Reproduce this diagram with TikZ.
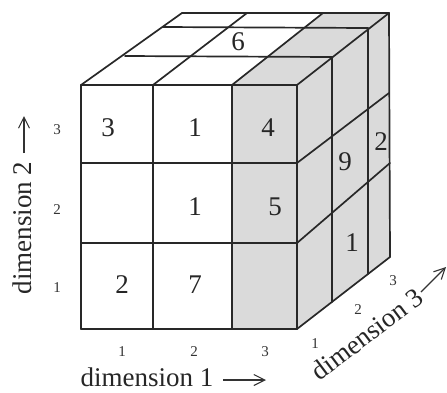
\documentclass[tikz,border=0pt]{standalone}
\usepackage{fontspec}
\setmainfont{Liberation Serif}
\usetikzlibrary{arrows.meta}
\definecolor{cellgray}{RGB}{218,218,218}
\definecolor{edge}{RGB}{40,40,40}
\begin{document}
\begin{tikzpicture}[x=1pt,y=-1pt,
  grid/.style={draw=edge,line width=1.7pt,line cap=round,line join=round},
  shade/.style={fill=cellgray},
  big/.style={font=\fontsize{27}{30}\selectfont,text=black!85,inner sep=0pt},
  small/.style={font=\fontsize{15}{17}\selectfont,text=black!80,inner sep=0pt},
  axis/.style={font=\fontsize{27}{30}\selectfont,text=black!85,inner sep=0pt},
  axarrow/.style={draw=black!80,line width=1.1pt,-{Straight Barb[length=11pt,width=11pt]}}]
\useasboundingbox (0,0) rectangle (447,392);
% gray regions
\fill[shade] (232,85) -- (297,85) -- (297,329) -- (232,329) -- cycle;
\fill[shade] (232,85) -- (297,85) -- (389,13) -- (323,13) -- cycle;
\fill[shade] (297,85) -- (389,13) -- (390,257) -- (297,329) -- cycle;
% front grid
\foreach \x in {81,153,232,297} \draw[grid] (\x,85) -- (\x,329);
\foreach \y in {85,163,243,329} \draw[grid] (81,\y) -- (297,\y);
% top face
\draw[grid] (125,56) -- (332,57);
\draw[grid] (163,27) -- (368,28);
\draw[grid] (182,13) -- (389,13);
\draw[grid] (81,85) -- (182,13);
\draw[grid] (153,85) -- (247,13);
\draw[grid] (232,85) -- (323,13);
\draw[grid] (297,85) -- (389,13);
% right face
\draw[grid] (332,57) -- (332,302);
\draw[grid] (368,28) -- (368,274);
\draw[grid] (389,13) -- (390,257);
\draw[grid] (297,163) -- (389,93);
\draw[grid] (297,243) -- (390,163);
\draw[grid] (297,329) -- (390,257);
% cell values
\node[big] (v1) at (108,128) {3};
\node[big] (v2) at (195,128) {1};
\node[big] (v3) at (268,128) {4};
\node[big] (v4) at (195,207) {1};
\node[big] (v5) at (275,207) {5};
\node[big] (v6) at (122,285) {2};
\node[big] (v7) at (195,285) {7};
\node[big] (v8) at (238,42) {6};
\node[big] (v9) at (345,162) {9};
\node[big] (v10) at (381,142) {2};
\node[big] (v11) at (352,243) {1};
% axis indices
\node[small] (a23) at (57,130) {3};
\node[small] (a22) at (57,210) {2};
\node[small] (a21) at (57,288) {1};
\node[small] (a11) at (122,352) {1};
\node[small] (a12) at (194,352) {2};
\node[small] (a13) at (265,352) {3};
\node[small] (a31) at (315,344) {1};
\node[small] (a32) at (358,310) {2};
\node[small] (a33) at (393,281) {3};
% axis titles
\node[axis] (d1) at (147,377) {dimension 1};
\coordinate (d1s) at (223,380);
\coordinate (d1e) at (266,380);
\draw[axarrow] (d1s) -- (d1e);
\node[axis,rotate=90] (d2) at (22,228) {dimension 2};
\coordinate (d2s) at (24,153);
\coordinate (d2e) at (24,116);
\draw[axarrow] (d2s) -- (d2e);
\node[axis,rotate=37] (d3) at (367,334) {dimension 3};
\coordinate (d3s) at (421,292);
\coordinate (d3e) at (446,267);
\draw[axarrow] (d3s) -- (d3e);
\end{tikzpicture}
\end{document}
